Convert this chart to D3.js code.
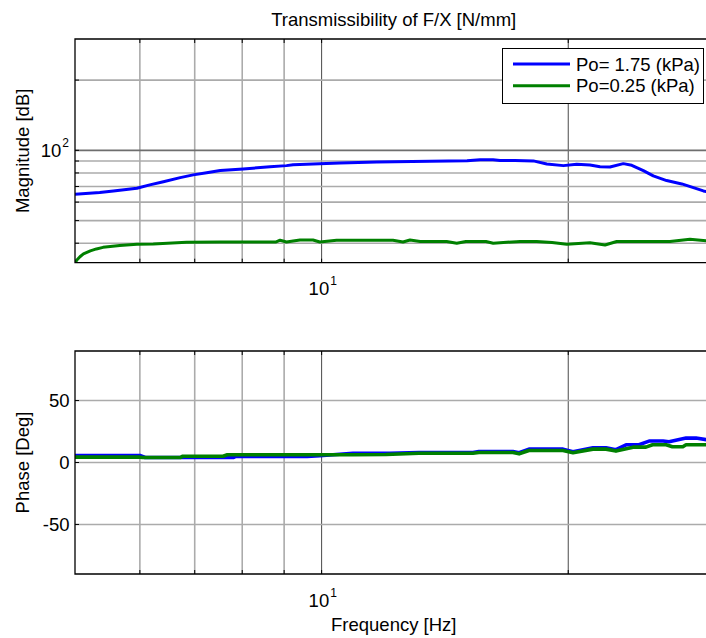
<!DOCTYPE html>
<html>
<head>
<meta charset="utf-8">
<script src="https://cdn.jsdelivr.net/npm/d3@7"></script>
<style>
  body { margin: 0; background: #fff; }
  text { font-family: "Liberation Sans", Arial, sans-serif; fill: #000; }
</style>
</head>
<body>
<svg id="chart" width="706" height="638"></svg>
<script>
// ---- Measured transmissibility data ----
const titleText = "Transmissibility of F/X [N/mm]";
const seriesNames = ["Po= 1.75 (kPa)", "Po=0.25 (kPa)"];
const seriesColors = ["#0000ff", "#008000"];

// Magnitude, Po = 1.75 kPa
const magFreqHigh = [5.00, 5.36, 5.57, 5.95, 6.17, 6.41, 6.72, 6.97, 7.24, 7.52, 8.02, 8.65, 9.06, 9.23, 9.76, 10.53, 11.68, 13.56, 15.05, 15.61, 16.19, 16.51, 17.22, 18.13, 18.83, 19.73, 20.48, 21.26, 21.87, 22.49, 23.35, 23.91, 24.70, 25.40, 26.37, 27.52, 28.43, 29.24, 30.00];
const magHigh     = [64.8, 65.9, 67.0, 68.8, 71.1, 73.4, 76.4, 78.5, 80.2, 81.9, 83.2, 85.1, 86.0, 86.8, 87.4, 88.2, 89.1, 89.8, 90.2, 91.1, 91.1, 90.4, 90.4, 90.1, 87.4, 86.0, 87.2, 86.6, 85.1, 84.9, 87.7, 86.3, 81.9, 77.7, 74.2, 71.8, 69.2, 67.0, 65.8];

// Magnitude, Po = 0.25 kPa
const magFreqLow = [5.00, 5.03, 5.07, 5.12, 5.22, 5.31, 5.41, 5.67, 5.95, 6.23, 6.84, 7.52, 8.80, 8.90, 9.06, 9.23, 9.41, 9.76, 9.95, 10.43, 12.22, 12.57, 12.82, 13.19, 14.21, 14.62, 15.00, 15.87, 16.20, 16.51, 17.47, 18.30, 19.11, 19.92, 21.26, 22.18, 22.92, 26.62, 28.16, 29.50, 30.00];
const magLow     = [33.0, 34.0, 35.0, 36.0, 37.1, 37.8, 38.4, 39.1, 39.6, 39.7, 40.4, 40.5, 40.5, 41.2, 40.5, 40.9, 41.3, 41.3, 40.5, 41.2, 41.2, 40.5, 41.3, 40.7, 40.7, 40.0, 40.7, 40.7, 40.0, 40.2, 40.7, 40.7, 40.3, 39.6, 40.2, 39.3, 40.7, 40.7, 41.6, 41.0, 41.0];

// Phase, Po = 1.75 kPa
const phFreqHigh = [5.00, 6.00, 6.09, 7.80, 7.86, 9.60, 9.95, 10.92, 12.12, 13.15, 15.30, 15.56, 17.12, 17.42, 17.91, 19.71, 20.27, 21.44, 22.24, 22.87, 23.53, 24.40, 25.10, 26.11, 26.55, 27.85, 28.64, 29.50, 30.00];
const phHigh     = [5.7, 5.7, 4.0, 4.0, 4.9, 4.9, 5.5, 7.5, 7.5, 8.1, 8.1, 8.9, 8.9, 7.9, 10.8, 10.8, 8.7, 11.9, 11.9, 10.3, 14.3, 14.3, 17.3, 17.3, 16.8, 19.7, 19.7, 18.4, 18.0];

// Phase, Po = 0.25 kPa
const phFreqLow = [5.00, 6.00, 6.05, 6.72, 6.77, 7.58, 7.67, 10.92, 11.98, 13.15, 15.30, 15.56, 17.12, 17.42, 17.91, 19.71, 20.27, 21.44, 22.24, 22.87, 24.00, 24.88, 25.35, 26.33, 26.80, 27.60, 27.85, 29.50, 30.00];
const phLow     = [4.3, 4.3, 4.0, 4.0, 5.1, 5.1, 6.2, 6.2, 6.5, 7.5, 7.5, 8.1, 8.1, 7.0, 9.7, 9.7, 7.9, 10.8, 10.8, 9.2, 12.4, 12.4, 14.3, 14.3, 12.7, 12.7, 14.3, 14.3, 14.0];

// Axis settings
const freqDomain = [5, 30];
const magDomain = [33, 300];
const phaseDomain = [-90, 90];
const freqGrid = [6, 7, 8, 9, 10, 20];
const freqGridDark = [10, 20];
const magGrid = [40, 50, 60, 70, 80, 90, 100, 200];
const phaseTicks = [-50, 0, 50];

// ---- Layout ----
const svg = d3.select("#chart");
svg.append("rect").attr("width", 706).attr("height", 638).attr("fill", "#fff");

const left = 75, right = 712.5;
const magTop = 39, magBottom = 262.7;
const phTop = 351, phBottom = 574;

const x = d3.scaleLog().domain(freqDomain).range([left, right]);
const yMag = d3.scaleLog().domain(magDomain).range([magBottom, magTop]);
const yPh = d3.scaleLinear().domain(phaseDomain).range([phBottom, phTop]);

const defs = svg.append("defs");
function clip(id, top, bottom) {
  defs.append("clipPath").attr("id", id)
    .append("rect").attr("x", left).attr("y", top)
    .attr("width", right - left).attr("height", bottom - top);
}
clip("clipMag", magTop, magBottom);
clip("clipPh", phTop, phBottom);

function drawPanel(yScale, top, bottom, yGrid, darkY, clipId, series, lineWidth) {
  const g = svg.append("g");
  // vertical grid
  freqGrid.forEach(f => {
    const dark = freqGridDark.includes(f);
    g.append("line")
      .attr("x1", x(f)).attr("x2", x(f)).attr("y1", top).attr("y2", bottom)
      .attr("stroke", dark ? "#4a4a4a" : "#ababab")
      .attr("stroke-width", dark ? 1 : 1.6);
    // small inward ticks at top and bottom edges
    g.append("line").attr("x1", x(f)).attr("x2", x(f)).attr("y1", top).attr("y2", top + 4)
      .attr("stroke", "#000").attr("stroke-width", 1);
    g.append("line").attr("x1", x(f)).attr("x2", x(f)).attr("y1", bottom).attr("y2", bottom - 4)
      .attr("stroke", "#000").attr("stroke-width", 1);
  });
  // horizontal grid
  yGrid.forEach(v => {
    const dark = darkY.includes(v);
    g.append("line")
      .attr("x1", left).attr("x2", right).attr("y1", yScale(v)).attr("y2", yScale(v))
      .attr("stroke", dark ? "#6e6e6e" : "#ababab")
      .attr("stroke-width", 1.6);
    g.append("line").attr("x1", left).attr("x2", left + 4).attr("y1", yScale(v)).attr("y2", yScale(v))
      .attr("stroke", "#000").attr("stroke-width", 1);
  });
  // data lines
  const line = d3.line().x(d => x(d[0])).y(d => yScale(d[1]));
  const lg = svg.append("g").attr("clip-path", `url(#${clipId})`);
  series.forEach((s, i) => {
    lg.append("path")
      .attr("d", line(d3.zip(s[0], s[1])))
      .attr("fill", "none")
      .attr("stroke", seriesColors[i])
      .attr("stroke-width", lineWidth)
      .attr("stroke-linejoin", "round");
  });
  // axes box (left, top, bottom)
  svg.append("path")
    .attr("d", `M${right},${top}H${left}V${bottom}H${right}`)
    .attr("fill", "none").attr("stroke", "#000").attr("stroke-width", 1.3);
}

drawPanel(yMag, magTop, magBottom, magGrid, [100], "clipMag",
  [[magFreqHigh, magHigh], [magFreqLow, magLow]], 3);
drawPanel(yPh, phTop, phBottom, phaseTicks, [], "clipPh",
  [[phFreqHigh, phHigh], [phFreqLow, phLow]], 3.6);

// ---- Tick labels ----
const fs = 18.5, sup = 12;
function powerLabel(px, py, base, exp, anchor) {
  const t = svg.append("text").attr("x", px).attr("y", py)
    .attr("font-size", fs).attr("text-anchor", anchor);
  t.append("tspan").text(base);
  t.append("tspan").attr("font-size", sup).attr("dy", -10).attr("dx", 1).text(exp);
}
// x-axis decade labels for both panels
powerLabel(x(10) - 13, magBottom + 32, "10", "1", "start");
powerLabel(x(10) - 13, phBottom + 32.5, "10", "1", "start");
// magnitude decade label
powerLabel(left - 6, yMag(100) + 6.5, "10", "2", "end");
// phase labels
phaseTicks.forEach(v => {
  svg.append("text").attr("x", left - 5.5).attr("y", yPh(v) + 6.5)
    .attr("font-size", fs).attr("text-anchor", "end").text(v);
});

// ---- Titles ----
const cx = (left + right) / 2;
svg.append("text").attr("x", cx).attr("y", 26).attr("font-size", fs)
  .attr("text-anchor", "middle").text(titleText);
svg.append("text").attr("x", cx).attr("y", 631).attr("font-size", fs)
  .attr("text-anchor", "middle").text("Frequency [Hz]");
svg.append("text").attr("transform", `translate(29,${(magTop + magBottom) / 2}) rotate(-90)`)
  .attr("font-size", fs).attr("text-anchor", "middle").text("Magnitude [dB]");
svg.append("text").attr("transform", `translate(29,${(phTop + phBottom) / 2}) rotate(-90)`)
  .attr("font-size", fs).attr("text-anchor", "middle").text("Phase [Deg]");

// ---- Legend ----
const leg = svg.append("g");
leg.append("rect").attr("x", 502.5).attr("y", 48.5).attr("width", 201).attr("height", 55)
  .attr("fill", "#fff").attr("stroke", "#000").attr("stroke-width", 1);
seriesNames.forEach((name, i) => {
  const ly = 64 + i * 21.8;
  leg.append("line").attr("x1", 513).attr("x2", 570).attr("y1", ly).attr("y2", ly)
    .attr("stroke", seriesColors[i]).attr("stroke-width", 3);
  leg.append("text").attr("x", 576).attr("y", ly + 6.5).attr("font-size", fs).text(name);
});
</script>
</body>
</html>
